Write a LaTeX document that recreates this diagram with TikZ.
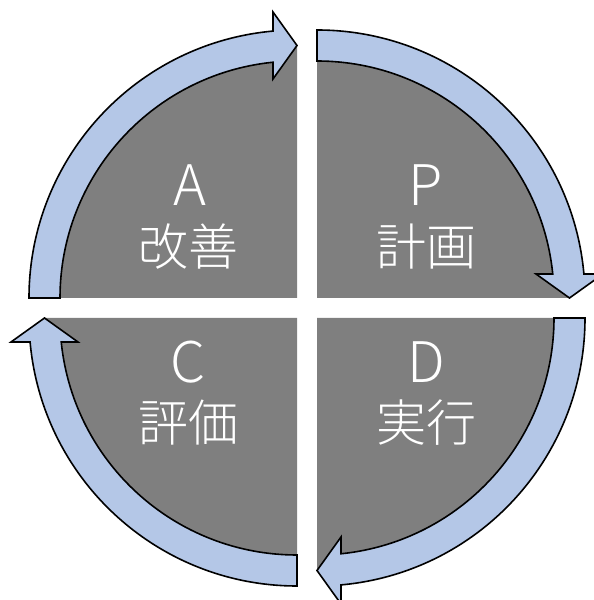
\documentclass[tikz,border=0pt]{standalone}
\usepackage{fontspec}
\setmainfont{Noto Sans CJK JP}[UprightFont={* Light}]
\definecolor{qgray}{HTML}{7F7F7F}
\definecolor{arrowblue}{HTML}{B4C7E7}
\newcommand\cyclearrow[3]{%
  \begin{scope}[shift={(#1)}, rotate=#2]
    \draw[cyc] (180:237) -- (180:268)
      arc[start angle=180, end angle=95.14, radius=268]
      -- (-24,286) -- (0,252.5) -- (-24,219)
      -- (95.81:237) arc[start angle=95.81, end angle=180, radius=237] -- cycle;
    \coordinate (#3) at (0,252.5);
  \end{scope}}
\begin{document}
\begin{tikzpicture}[x=1pt,y=1pt,
  quad/.style={fill=qgray},
  cyc/.style={fill=arrowblue, draw=black, line width=1.6pt, line join=miter},
  lab/.style={text=white, inner sep=0pt, font=\fontsize{56}{60}\selectfont},
  jlab/.style={text=white, inner sep=0pt, font=\fontsize{50}{60}\selectfont}]
\useasboundingbox (0,0) rectangle (594,600);
\clip (0,0) rectangle (594,600);
\coordinate (tl) at (297,302);
\coordinate (tr) at (317,302);
\coordinate (bl) at (297,282);
\coordinate (br) at (317,282);
% quadrants
\fill[quad] (tl) -- ++(180:252) arc[start angle=180, end angle=90, radius=252] -- cycle;
\fill[quad] (tr) -- ++(90:252) arc[start angle=90, end angle=0, radius=252] -- cycle;
\fill[quad] (br) -- ++(0:252) arc[start angle=0, end angle=-90, radius=252] -- cycle;
\fill[quad] (bl) -- ++(-90:252) arc[start angle=-90, end angle=-180, radius=252] -- cycle;
% cycle arrows
\cyclearrow{tl}{0}{tipAP}
\cyclearrow{tr}{-90}{tipPD}
\cyclearrow{br}{-180}{tipDC}
\cyclearrow{bl}{90}{tipCA}
% labels
\node[lab]  (a)  at (190,415) {A};
\node[jlab] (aj) at (188,353) {改善};
\node[lab]  (p)  at (426,415) {P};
\node[jlab] (pj) at (426,353) {計画};
\node[lab]  (c)  at (188,238) {C};
\node[jlab] (cj) at (188,177) {評価};
\node[lab]  (d)  at (426,238) {D};
\node[jlab] (dj) at (426,177) {実行};
\end{tikzpicture}
\end{document}
